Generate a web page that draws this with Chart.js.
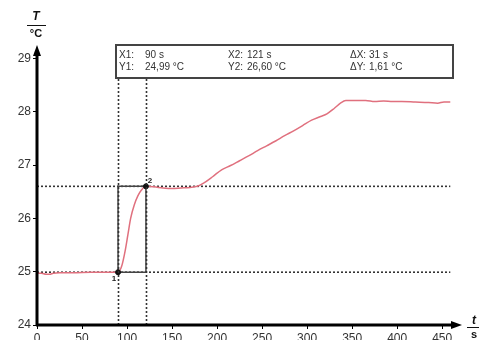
<!DOCTYPE html>
<html>
<head>
<meta charset="utf-8">
<script src="https://cdn.jsdelivr.net/npm/chart.js@4/dist/chart.umd.min.js"></script>
<style>
  html, body { margin: 0; padding: 0; background: #fff; }
  canvas { display: block; }
</style>
</head>
<body>
<canvas id="c" width="479" height="340"></canvas>
<script>
// Temperature trace: time in s, temperature in °C
const times = [0, 5, 10, 14, 18, 25, 40, 60, 80, 90, 94, 98, 101, 104, 108, 112, 116, 121,
  130, 140, 150, 160, 170, 178, 185, 195, 205, 215, 225, 235, 245, 255, 265, 275, 285, 295,
  305, 315, 322, 330, 337, 343, 355, 365, 375, 385, 395, 405, 420, 435, 445, 452, 459];
const temps = [24.97, 24.97, 24.95, 24.95, 24.97, 24.98, 24.98, 24.99, 24.99, 24.99, 25.10, 25.40, 25.70, 26.00, 26.25, 26.42, 26.53, 26.60,
  26.59, 26.57, 26.56, 26.57, 26.58, 26.60, 26.66, 26.78, 26.91, 26.99, 27.08, 27.17, 27.27, 27.36, 27.45, 27.55, 27.64, 27.74,
  27.84, 27.91, 27.96, 28.06, 28.16, 28.21, 28.21, 28.21, 28.19, 28.20, 28.19, 28.19, 28.18, 28.17, 28.16, 28.18, 28.18];

// Measuring cursors
const cursorX = [90, 121];
const cursorY = [24.99, 26.60];
const cursorEnd = 459;

// Axis ticks
const xTicks = [0, 50, 100, 150, 200, 250, 300, 350, 400, 450];
const yTicks = [24, 25, 26, 27, 28, 29];

const trace = times.map((t, i) => ({ x: t, y: temps[i] }));
const hLine = v => [{ x: 0, y: v }, { x: cursorEnd, y: v }];
const rect = [
  { x: cursorX[0], y: cursorY[0] }, { x: cursorX[1], y: cursorY[0] },
  { x: cursorX[1], y: cursorY[1] }, { x: cursorX[0], y: cursorY[1] },
  { x: cursorX[0], y: cursorY[0] }
];
const markers = cursorX.map((x, i) => ({ x: x, y: cursorY[i] }));

const fmt = v => v.toFixed(2).replace('.', ',');
const FONT = '"Liberation Sans", Arial, sans-serif';

const overlay = {
  id: 'overlay',
  afterDatasetsDraw(chart) {
    const ctx = chart.ctx;
    const xs = chart.scales.x, ys = chart.scales.y;
    const a = chart.chartArea;
    const boxL = 116, boxR = 453, boxT = 45, boxB = 78;

    // vertical cursor lines
    ctx.save();
    ctx.strokeStyle = '#333';
    ctx.lineWidth = 1.6;
    ctx.setLineDash([2, 2]);
    cursorX.forEach(v => {
      const px = Math.round(xs.getPixelForValue(v)) + 0.5;
      ctx.beginPath();
      ctx.moveTo(px, boxB + 1);
      ctx.lineTo(px, a.bottom);
      ctx.stroke();
    });
    ctx.restore();

    // cursor numbers
    ctx.save();
    ctx.fillStyle = '#222';
    ctx.font = 'bold 8px ' + FONT;
    ctx.textAlign = 'center';
    ctx.textBaseline = 'middle';
    ctx.fillText('1', xs.getPixelForValue(cursorX[0]) - 4, ys.getPixelForValue(cursorY[0]) + 7);
    ctx.fillText('2', xs.getPixelForValue(cursorX[1]) + 4, ys.getPixelForValue(cursorY[1]) - 6);
    ctx.restore();

    // axes with arrows
    ctx.save();
    ctx.strokeStyle = '#000';
    ctx.fillStyle = '#000';
    ctx.lineWidth = 3;
    ctx.beginPath();
    ctx.moveTo(a.left, a.bottom + 1);
    ctx.lineTo(a.left, a.top + 8);
    ctx.moveTo(a.left - 1, a.bottom);
    ctx.lineTo(a.right - 8, a.bottom);
    ctx.stroke();
    ctx.beginPath();
    ctx.moveTo(a.left, a.top);
    ctx.lineTo(a.left - 4, a.top + 11);
    ctx.lineTo(a.left + 4, a.top + 11);
    ctx.closePath();
    ctx.fill();
    ctx.beginPath();
    ctx.moveTo(a.right, a.bottom);
    ctx.lineTo(a.right - 11, a.bottom - 4);
    ctx.lineTo(a.right - 11, a.bottom + 4);
    ctx.closePath();
    ctx.fill();
    ctx.restore();

    // axis titles
    ctx.save();
    ctx.fillStyle = '#111';
    ctx.strokeStyle = '#111';
    ctx.lineWidth = 1;
    ctx.textAlign = 'center';
    ctx.textBaseline = 'middle';
    ctx.font = 'bold italic 12px ' + FONT;
    ctx.fillText('T', 36, 17);
    ctx.beginPath(); ctx.moveTo(27, 25.5); ctx.lineTo(46, 25.5); ctx.stroke();
    ctx.font = 'bold 11px ' + FONT;
    ctx.fillText('°C', 36, 34);
    ctx.font = 'bold italic 12px ' + FONT;
    ctx.fillText('t', 474, 321);
    ctx.beginPath(); ctx.moveTo(467, 327.5); ctx.lineTo(479, 327.5); ctx.stroke();
    ctx.font = 'bold 11px ' + FONT;
    ctx.fillText('s', 474, 335);
    ctx.restore();

    // cursor readout box
    ctx.save();
    ctx.fillStyle = '#fff';
    ctx.fillRect(boxL, boxT, boxR - boxL, boxB - boxT);
    ctx.strokeStyle = '#444';
    ctx.lineWidth = 2;
    ctx.strokeRect(boxL, boxT, boxR - boxL, boxB - boxT);
    ctx.fillStyle = '#333';
    ctx.font = '10px ' + FONT;
    ctx.textAlign = 'left';
    ctx.textBaseline = 'middle';
    const r1 = 55.5, r2 = 67.5;
    ctx.fillText('X1:', 119, r1);
    ctx.fillText(cursorX[0] + ' s', 145, r1);
    ctx.fillText('Y1:', 119, r2);
    ctx.fillText(fmt(cursorY[0]) + ' °C', 145, r2);
    ctx.fillText('X2:', 228, r1);
    ctx.fillText(cursorX[1] + ' s', 247, r1);
    ctx.fillText('Y2:', 228, r2);
    ctx.fillText(fmt(cursorY[1]) + ' °C', 247, r2);
    ctx.fillText('\u0394X:', 350, r1);
    ctx.fillText((cursorX[1] - cursorX[0]) + ' s', 369, r1);
    ctx.fillText('\u0394Y:', 350, r2);
    ctx.fillText(fmt(cursorY[1] - cursorY[0]) + ' °C', 369, r2);
    ctx.restore();
  }
};

new Chart(document.getElementById('c'), {
  type: 'line',
  data: {
    datasets: [
      { data: hLine(cursorY[0]), borderColor: '#333', borderWidth: 1.6, borderDash: [2, 2], pointRadius: 0, order: 3 },
      { data: hLine(cursorY[1]), borderColor: '#333', borderWidth: 1.6, borderDash: [2, 2], pointRadius: 0, order: 3 },
      { data: rect, borderColor: '#444', borderWidth: 1.5, pointRadius: 0, order: 2 },
      { data: trace, borderColor: '#e0707e', borderWidth: 1.5, pointRadius: 0, cubicInterpolationMode: 'monotone', order: 1 },
      { data: markers, showLine: false, pointRadius: 2.5, pointBackgroundColor: '#111', pointBorderColor: '#111', order: 0 }
    ]
  },
  options: {
    responsive: false,
    animation: false,
    layout: { padding: { top: 45, right: 17, left: 0, bottom: 0 } },
    plugins: { legend: { display: false }, tooltip: { enabled: false } },
    scales: {
      x: {
        type: 'linear', min: 0, max: 472,
        border: { display: false },
        grid: { display: true, drawOnChartArea: false, drawTicks: true, tickLength: 4, color: '#000' },
        ticks: { color: '#333', font: { family: FONT, size: 12 }, padding: 2, maxRotation: 0 },
        afterBuildTicks: s => { s.ticks = xTicks.map(v => ({ value: v })); },
        afterFit: s => { s.height = 15; }
      },
      y: {
        type: 'linear', min: 24, max: 29.25,
        border: { display: false },
        grid: { display: true, drawOnChartArea: false, drawTicks: true, tickLength: 4, color: '#000' },
        ticks: { color: '#333', font: { family: FONT, size: 12 }, padding: 2 },
        afterBuildTicks: s => { s.ticks = yTicks.map(v => ({ value: v })); },
        afterFit: s => { s.width = 37; }
      }
    }
  },
  plugins: [overlay]
});
</script>
</body>
</html>
